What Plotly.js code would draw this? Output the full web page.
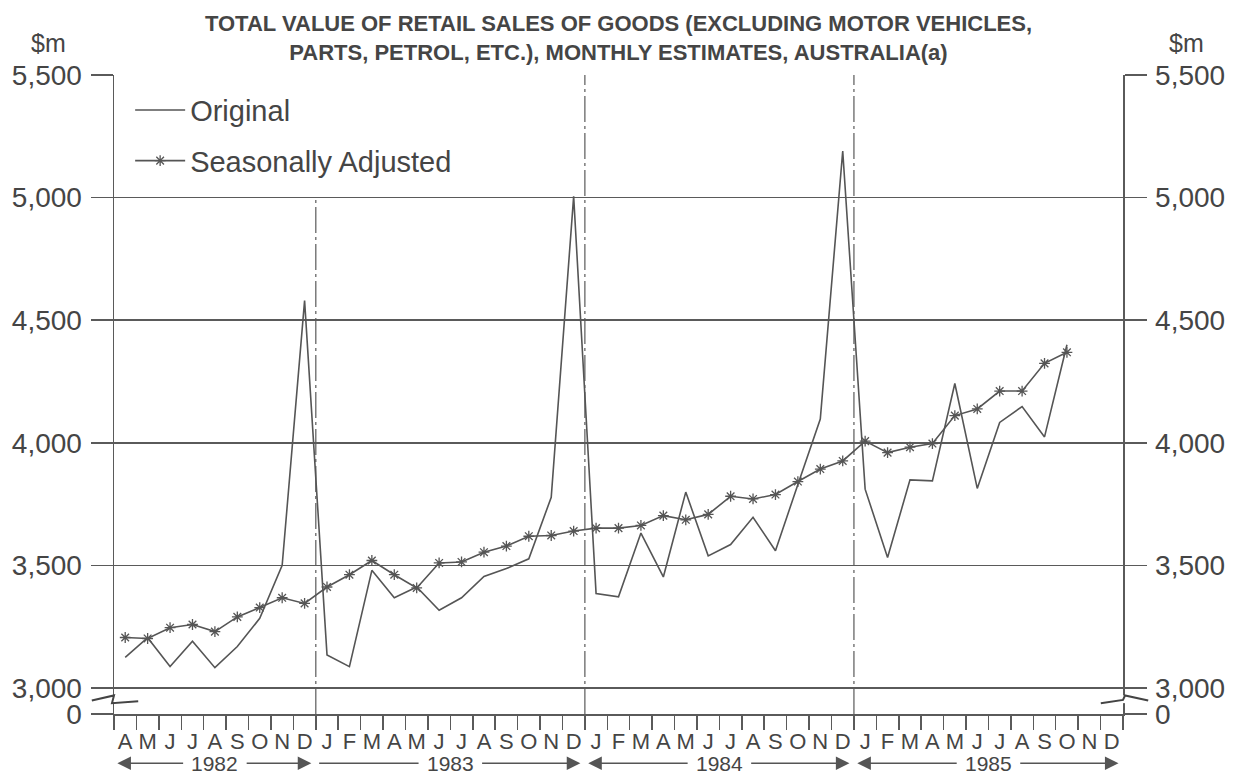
<!DOCTYPE html>
<html><head><meta charset="utf-8">
<script src="https://cdn.plot.ly/plotly-3.0.1.min.js"></script>
<style>html,body{margin:0;padding:0;background:#fff}#chart{width:1243px;height:777px}</style>
</head><body><div id="chart"></div>
<script>
// ---- data ----
var monthLabels = ['A','M','J','J','A','S','O','N','D',
  'J','F','M','A','M','J','J','A','S','O','N','D',
  'J','F','M','A','M','J','J','A','S','O','N','D',
  'J','F','M','A','M','J','J','A','S','O','N','D'];
var years = ['1982','1983','1984','1985'];
var original = [3125,3205,3088,3191,3083,3169,3284,3500,4580,
  3135,3087,3480,3368,3412,3317,3368,3455,3487,3527,3778,5005,
  3385,3372,3632,3453,3799,3539,3585,3696,3560,3830,4097,5190,
  3811,3532,3849,3845,4242,3814,4083,4148,4024,4400];
var seasAdj = [3206,3202,3246,3259,3230,3290,3328,3368,3345,
  3412,3462,3520,3462,3408,3510,3514,3554,3579,3619,3622,3640,
  3652,3652,3663,3703,3686,3708,3782,3771,3789,3842,3893,3926,
  4007,3960,3982,3997,4111,4138,4211,4211,4324,4369];
var yTickVals = [3000,3500,4000,4500,5000,5500];
var yTickText = ['3,000','3,500','4,000','4,500','5,000','5,500'];
var zeroLabel = '0';

// ---- layout helpers ----
var FONT = 'Liberation Sans, Arial, sans-serif';
var INK = '#454545';
var LINE = '#5a5a5a';
var ZERO_AT = 2894;          // position of the broken-axis "0" line
var Y_TOP = 5500;
var idx = monthLabels.map(function(_, i){ return i; });
var xo = original.map(function(_, i){ return i; });
var xs = seasAdj.map(function(_, i){ return i; });
var tv = [ZERO_AT].concat(yTickVals);
var tt = [zeroLabel].concat(yTickText);

// year boundaries (after each December)
var bounds = [];
monthLabels.forEach(function(m, i){ if (m === 'D' && i < monthLabels.length - 1) bounds.push(i + 0.5); });

var shapes = [];
bounds.forEach(function(b, j){
  shapes.push({type:'line', xref:'x', yref:'y', x0:b, x1:b, y0:ZERO_AT, y1:(j===0?5000:Y_TOP),
    line:{color:'#666', width:1.3, dash:'26px,4px,3px,4px'}, layer:'below'});
});
// axis breaks (white gaps + zigzags)
[[ -0.006, 0.006 ], [0.994, 1.006]].forEach(function(r){
  shapes.push({type:'rect', xref:'paper', yref:'paper', x0:r[0], x1:r[1], y0:0.017, y1:0.029,
    fillcolor:'#fff', line:{width:0}, layer:'above'});
});
shapes.push({type:'path', xref:'paper', yref:'paper', layer:'above',
  path:'M -0.022 0.021 L 0.0 0.029 L -0.002 0.017 L 0.024 0.020',
  line:{color:'#444', width:2}});
shapes.push({type:'path', xref:'paper', yref:'paper', layer:'above',
  path:'M 0.978 0.017 L 1.0 0.022 L 1.002 0.029 L 1.025 0.021',
  line:{color:'#444', width:2}});

var annotations = [
  {xref:'paper', yref:'paper', x:-0.065, y:1.05, xanchor:'center', yanchor:'middle', text:'$m', showarrow:false,
   font:{family:FONT, size:25, color:INK}},
  {xref:'paper', yref:'paper', x:1.063, y:1.05, xanchor:'center', yanchor:'middle', text:'$m', showarrow:false,
   font:{family:FONT, size:25, color:INK}}
];
var YY = -0.077;
var HALF = 1.35;   // half-width of the year label, in months
years.forEach(function(yr, j){
  var start = j === 0 ? -0.5 : bounds[j-1];
  var end = j < bounds.length ? bounds[j] : monthLabels.length - 0.5;
  var a = start + 0.15, b = end - 0.2, c = (start + end) / 2;
  annotations.push({xref:'x', yref:'paper', x:b, y:YY, axref:'x', ax:c + HALF, ayref:'pixel', ay:0,
    text:'', showarrow:true, arrowhead:2, arrowsize:1.7, arrowwidth:1.6, arrowcolor:'#555'});
  annotations.push({xref:'x', yref:'paper', x:a, y:YY, axref:'x', ax:c - HALF, ayref:'pixel', ay:0,
    text:'', showarrow:true, arrowhead:(j===1?0:2), arrowsize:1.7, arrowwidth:1.6, arrowcolor:'#555'});
  annotations.push({xref:'x', yref:'paper', x:c, y:YY, xanchor:'center', yanchor:'middle', text:yr,
    showarrow:false, font:{family:FONT, size:21, color:INK}});
});

var traces = [
  {x:xo, y:original, name:'Original', type:'scatter', mode:'lines',
   line:{color:'#555', width:1.6}, legendgroup:'a', hoverinfo:'skip'},
  {x:xs, y:seasAdj, name:'Seasonally Adjusted', type:'scatter', mode:'lines+markers',
   line:{color:'#555', width:1.6},
   marker:{symbol:'asterisk-open', size:9, color:'#555', line:{color:'#555', width:1.3}},
   legendgroup:'b', hoverinfo:'skip'},
  // invisible copy so the right-hand axis is drawn
  {x:xo, y:original, yaxis:'y2', type:'scatter', mode:'lines', opacity:0,
   line:{width:0}, showlegend:false, hoverinfo:'skip'}
];

var layout = {
  width:1243, height:777,
  margin:{l:114, r:120, t:75, b:63},
  paper_bgcolor:'#fff', plot_bgcolor:'#fff',
  showlegend:true,
  title:{text:'TOTAL VALUE OF RETAIL SALES OF GOODS (EXCLUDING MOTOR VEHICLES,<br>PARTS, PETROL, ETC.), MONTHLY ESTIMATES, AUSTRALIA(a)',
    font:{family:FONT, size:22, color:INK, weight:'bold'}, x:0.5, xref:'paper', xanchor:'center',
    y:1 - 31/777, yref:'container', yanchor:'middle'},
  legend:{x:0.016, y:0.985, xanchor:'left', yanchor:'top', bgcolor:'rgba(0,0,0,0)',
    font:{family:FONT, size:29, color:INK}, itemwidth:50, traceorder:'grouped', tracegroupgap:10},
  xaxis:{range:[-0.5, monthLabels.length - 0.5], tickmode:'array', tickvals:idx, ticktext:monthLabels,
    ticks:'', showgrid:false, zeroline:false, showline:true, linecolor:LINE, linewidth:1.5,
    tickfont:{family:FONT, size:22, color:INK}, ticklabelstandoff:7,
    minor:{tickmode:'linear', tick0:-0.5, dtick:1, ticks:'outside', ticklen:14, tickwidth:1.5, tickcolor:LINE, showgrid:false},
    fixedrange:true},
  yaxis:{range:[ZERO_AT, Y_TOP], tickmode:'array', tickvals:tv, ticktext:tt, ticks:'outside', ticklen:22,
    tickwidth:1.5, tickcolor:LINE, showgrid:true, gridcolor:LINE, gridwidth:1.5, zeroline:false,
    showline:true, linecolor:LINE, linewidth:1.5, tickfont:{family:FONT, size:28, color:INK},
    ticklabelstandoff:3, fixedrange:true},
  yaxis2:{range:[ZERO_AT, Y_TOP], overlaying:'y', side:'right', anchor:'x', tickmode:'array', tickvals:tv, ticktext:tt,
    ticks:'outside', ticklen:22, tickwidth:1.5, tickcolor:LINE, showgrid:false, zeroline:false,
    showline:true, linecolor:LINE, linewidth:1.5, tickfont:{family:FONT, size:28, color:INK},
    ticklabelstandoff:3, fixedrange:true},
  shapes:shapes,
  annotations:annotations
};
Plotly.newPlot('chart', traces, layout, {displayModeBar:false, staticPlot:true});
</script></body></html>
